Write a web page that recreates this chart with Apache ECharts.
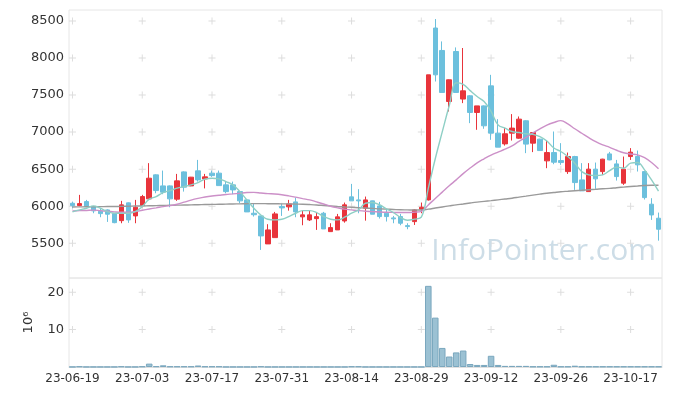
<!DOCTYPE html>
<html><head><meta charset="utf-8">
<script src="https://cdn.jsdelivr.net/npm/echarts@6/dist/echarts.min.js"></script>
<style>html,body{margin:0;padding:0;background:#fff}#c{width:673px;height:396px}</style>
</head><body><div id="c"></div>
<script>
const dates = ['23-06-19','23-06-20','23-06-21','23-06-22','23-06-23','23-06-26','23-06-27','23-06-28','23-06-29','23-06-30',
'23-07-03','23-07-04','23-07-05','23-07-06','23-07-07','23-07-10','23-07-11','23-07-12','23-07-13','23-07-14',
'23-07-17','23-07-18','23-07-19','23-07-20','23-07-21','23-07-24','23-07-25','23-07-26','23-07-27','23-07-28',
'23-07-31','23-08-01','23-08-02','23-08-03','23-08-04','23-08-07','23-08-08','23-08-09','23-08-10','23-08-11',
'23-08-14','23-08-16','23-08-17','23-08-18','23-08-21','23-08-22','23-08-23','23-08-24','23-08-25','23-08-28',
'23-08-29','23-08-30','23-08-31','23-09-01','23-09-04','23-09-05','23-09-06','23-09-07','23-09-08','23-09-11',
'23-09-12','23-09-13','23-09-14','23-09-15','23-09-18','23-09-19','23-09-20','23-09-21','23-09-22','23-09-25',
'23-09-26','23-09-27','23-10-04','23-10-05','23-10-06','23-10-10','23-10-11','23-10-12','23-10-13','23-10-16',
'23-10-17','23-10-18','23-10-19','23-10-20','23-10-23'];

const openPrices = [6040,6008,6062,5995,5932,5950,5900,5805,6045,5869,
6008,6099,6423,6274,6274,6095,6463,6274,6477,6369,
6446,6446,6288,6288,6197,6085,5905,5869,5491,5576,
5995,5991,6058,5856,5815,5832,5905,5657,5680,5801,
6126,6085,5973,6072,6004,5905,5842,5860,5738,5792,
5959,6085,8405,8102,7413,8088,7446,7490,7265,7354,
7624,6986,6841,6986,6918,7153,6851,6905,6612,6724,
6616,6467,6670,6355,6197,6500,6467,6706,6571,6311,
6670,6670,6467,6027,5838];
const closePrices = [6008,6035,5995,5937,5900,5892,5778,6018,5815,5986,
6130,6378,6211,6189,6099,6342,6257,6392,6355,6396,
6413,6278,6197,6220,6072,5923,5885,5599,5680,5896,
5977,6031,5923,5883,5883,5859,5693,5711,5856,6018,
6072,6072,6085,5892,5860,5860,5829,5770,5725,5950,
5986,7773,7773,7535,7706,7535,7557,7265,7354,7085,
6986,6797,6977,7054,7175,6838,6994,6751,6724,6594,
6589,6670,6319,6207,6500,6369,6635,6625,6400,6500,
6729,6558,6116,5882,5689];
const lowPrices = [5973,6000,5986,5905,5851,5788,5770,5770,5775,5770,
5986,6085,6175,6162,5986,6072,6197,6270,6332,6240,
6396,6278,6175,6162,6040,5923,5860,5410,5491,5576,
5869,5940,5851,5743,5800,5680,5693,5657,5680,5778,
6072,5905,5805,5892,5833,5793,5770,5743,5689,5747,
5905,6076,7683,7535,7278,7535,7391,7121,7031,7045,
6896,6797,6818,6886,6910,6716,6730,6751,6513,6567,
6558,6436,6220,6207,6197,6234,6423,6620,6346,6288,
6625,6468,6090,5815,5535];
const highPrices = [6062,6153,6085,6004,5973,5959,5905,6072,6050,6085,
6153,6581,6430,6481,6280,6436,6470,6395,6625,6436,
6481,6481,6332,6332,6200,6090,6040,5870,5757,5923,
6031,6085,6116,5940,5940,5914,5923,5770,5896,6049,
6301,6230,6130,6075,6058,5968,5869,5896,5770,5959,
6049,7773,8526,8224,7710,8143,8135,7500,7354,7360,
7773,7175,7054,7243,7211,7160,7000,6910,6886,7008,
6851,6724,6680,6581,6581,6589,6640,6733,6625,6670,
6784,6751,6470,6108,5914];

const ma5 = [5923,5950,5973,6004,5973,5927,5905,5905,5905,5927,
5995,6095,6130,6184,6211,6243,6265,6288,6319,6365,
6378,6369,6332,6288,6197,6085,5973,5882,5824,5815,
5824,5860,5905,5940,5940,5914,5860,5824,5815,5851,
5905,5950,6040,6050,6020,5965,5915,5850,5810,5825,
5852,6241,6641,7003,7355,7664,7645,7560,7480,7413,
7280,7097,7054,7008,6994,6977,6970,6940,6880,6785,
6738,6670,6581,6467,6423,6414,6423,6481,6527,6513,
6581,6589,6490,6355,6205];
const ma20 = [5936,5940,5943,5947,5940,5932,5923,5918,5918,5927,
5945,5962,5978,5995,6008,6027,6054,6082,6105,6124,
6138,6148,6158,6166,6175,6184,6186,6178,6170,6165,
6155,6140,6122,6103,6085,6058,6030,6000,5978,5960,
5950,5940,5932,5927,5922,5918,5916,5915,5915,5920,
5930,6017,6105,6190,6275,6355,6440,6515,6585,6640,
6690,6730,6770,6815,6875,6930,6990,7045,7095,7130,
7155,7110,7045,6985,6925,6870,6827,6795,6755,6722,
6705,6693,6655,6590,6505];
const ma60 = [5990,5991,5992,5993,5994,5995,5996,5998,6000,6002,
6004,6006,6008,6010,6012,6014,6016,6018,6020,6022,
6024,6026,6028,6030,6032,6034,6035,6035,6034,6033,
6032,6030,6028,6026,6022,6017,6010,6003,5996,5990,
5985,5980,5975,5970,5964,5960,5956,5952,5950,5948,
5948,5960,5975,5990,6004,6018,6030,6043,6055,6065,
6075,6086,6097,6108,6122,6136,6150,6163,6175,6185,
6195,6202,6209,6215,6222,6228,6235,6240,6250,6258,
6266,6273,6280,6282,6282];

const volumes = [0.03,0.15,0.03,0.03,0.03,0.03,0.03,0.15,0.03,0.03,
0.15,0.9,0.2,0.45,0.15,0.15,0.15,0.15,0.4,0.15,
0.15,0.15,0.03,0.03,0.03,0.03,0.03,0.15,0.03,0.03,
0.03,0.03,0.03,0.03,0.03,0.03,0.03,0.03,0.03,0.03,
0.15,0.15,0.03,0.03,0.03,0.03,0.03,0.03,0.03,0.03,
0.03,21.7,13.2,5.1,2.8,3.9,4.4,0.8,0.55,0.55,
3.0,0.55,0.3,0.3,0.3,0.3,0.12,0.12,0.12,0.6,
0.12,0.12,0.35,0.12,0.12,0.12,0.12,0.12,0.12,0.12,
0.12,0.12,0.12,0.12,0.12];

const priceTicks = [5500,6000,6500,7000,7500,8000,8500];
const volumeTicks = [10,20];
const labelStep = 10;

const FONT = 'DejaVu Sans';
const chart = echarts.init(document.getElementById('c'), null, {renderer:'canvas'});
const candles = dates.map((d,i)=>[openPrices[i], closePrices[i], lowPrices[i], highPrices[i]]);
const markerIdx = dates.map((d,i)=>i).filter(i=>i%labelStep===0);
const priceMarks = []; markerIdx.forEach(i=>priceTicks.forEach(v=>priceMarks.push([i,v])));
const volMarks = []; markerIdx.forEach(i=>volumeTicks.forEach(v=>volMarks.push([i,v])));
const plus = 'path://M3,0h1v3h3v1h-3v3h-1v-3h-3v-1h3z';
const plain = v => String(v);

chart.setOption({
  animation:false,
  backgroundColor:'#fff',
  grid:[
    {left:69,right:11,top:10,height:268,show:true,borderColor:'#e6e6e6',borderWidth:1,backgroundColor:'transparent'},
    {left:69,right:11,top:278,height:89,show:true,borderColor:'#e6e6e6',borderWidth:1,backgroundColor:'transparent'}
  ],
  graphic:[{type:'text',right:17,top:236,z:1,silent:true,
    style:{text:'InfoPointer.com',fontSize:30,fontFamily:'Open Sans',fill:'#cddde7'}}],
  xAxis:[
    {type:'category',data:dates,gridIndex:0,boundaryGap:true,axisLabel:{show:false},axisTick:{show:false},axisLine:{show:false},splitLine:{show:false}},
    {type:'category',data:dates,gridIndex:1,boundaryGap:true,
      axisLine:{show:true,lineStyle:{color:'#e0e0e0'}},axisTick:{show:false},
      axisLabel:{interval:labelStep-1,fontSize:12,color:'#333',fontFamily:FONT,margin:6},splitLine:{show:false}}
  ],
  yAxis:[
    {type:'value',gridIndex:0,min:5031,max:8648,splitLine:{show:false},axisLine:{show:false},axisTick:{show:false},
      axisLabel:{customValues:priceTicks,formatter:plain,fontSize:13,color:'#333',fontFamily:FONT,margin:5}},
    {type:'value',gridIndex:1,min:0,max:23.8,splitLine:{show:false},axisLine:{show:false},axisTick:{show:false},
      axisLabel:{customValues:volumeTicks,formatter:plain,fontSize:13,color:'#333',fontFamily:FONT,margin:5},
      name:'10\u2076',nameLocation:'middle',nameRotate:90,nameGap:34,
      nameTextStyle:{fontSize:13,color:'#333',fontFamily:FONT}}
  ],
  series:[
    {type:'scatter',xAxisIndex:0,yAxisIndex:0,data:priceMarks,symbol:plus,symbolSize:7,silent:true,z:0,
      itemStyle:{color:'#d4d4d4'}},
    {type:'scatter',xAxisIndex:1,yAxisIndex:1,data:volMarks,symbol:plus,symbolSize:7,silent:true,z:0,
      itemStyle:{color:'#d4d4d4'}},
    {type:'candlestick',xAxisIndex:0,yAxisIndex:0,data:candles,barWidth:5,
      itemStyle:{color:'#e8343b',color0:'#6cc0dd',borderColor:'#e8343b',borderColor0:'#6cc0dd',borderWidth:1}},
    {type:'line',xAxisIndex:0,yAxisIndex:0,data:ma60,showSymbol:false,smooth:0.4,lineStyle:{color:'#9a9a9a',width:1.4}},
    {type:'line',xAxisIndex:0,yAxisIndex:0,data:ma20,showSymbol:false,smooth:0.4,lineStyle:{color:'#cc90c8',width:1.4}},
    {type:'line',xAxisIndex:0,yAxisIndex:0,data:ma5,showSymbol:false,smooth:0.4,lineStyle:{color:'#8ecfc5',width:1.4}},
    {type:'bar',xAxisIndex:1,yAxisIndex:1,data:volumes,barCategoryGap:'6%',
      itemStyle:{color:'rgba(130,178,200,0.8)',borderColor:'#7aa7be',borderWidth:1}}
  ]
});
</script></body></html>
